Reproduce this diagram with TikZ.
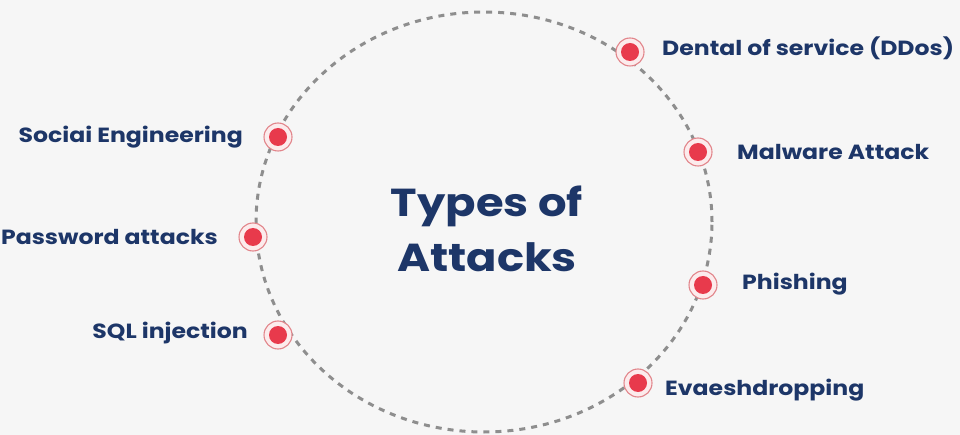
\documentclass[tikz,border=0pt]{standalone}
\usepackage{fontspec}
\setmainfont{Poppins}[FakeStretch=1.15]
\definecolor{bgcol}{HTML}{F6F6F6}
\definecolor{navy}{HTML}{1D3668}
\definecolor{dotred}{HTML}{E83A4C}
\definecolor{ringfill}{HTML}{FCEBEC}
\definecolor{ringline}{HTML}{E2858B}
\definecolor{dashcol}{HTML}{8E8E8E}
\begin{document}
\begin{tikzpicture}[x=1pt,y=-1pt,
  marker/.style={circle,draw=ringline,line width=1.1pt,fill=ringfill,minimum size=28pt,inner sep=0pt,
    path picture={\fill[dotred] (path picture bounding box.center) circle (9pt);}},
  lbl/.style={text=navy,font=\fontsize{20.5}{24}\selectfont\bfseries,inner sep=0pt},
  ring/.style={draw=dashcol,line width=3pt,dash pattern=on 6pt off 6pt}]
\fill[bgcol] (0,0) rectangle (960,435);
\useasboundingbox (0,0) rectangle (960,435);
\draw[ring] (484,222) ellipse [x radius=228pt, y radius=210pt];
\node[text=navy,font=\fontsize{39}{55}\selectfont\bfseries,align=center] (title) at (487,229) {Types of\\Attacks};
\node[marker] (m1) at (630,52) {};
\node[marker] (m2) at (698,152) {};
\node[marker] (m3) at (703,285) {};
\node[marker] (m4) at (638,383) {};
\node[marker] (m5) at (278,137) {};
\node[marker] (m6) at (253,237) {};
\node[marker] (m7) at (278,335) {};
\node[lbl,anchor=west] (l1) at (662,48) {Dental of service (DDos)};
\node[lbl,anchor=west] (l2) at (737,152) {Malware Attack};
\node[lbl,anchor=west] (l3) at (742,284) {Phishing};
\node[lbl,anchor=west] (l4) at (665,390) {Evaeshdropping};
\node[lbl,anchor=east] (l5) at (243,137) {Sociai Engineering};
\node[lbl,anchor=east] (l6) at (218,237) {Password attacks};
\node[lbl,anchor=east] (l7) at (248,333) {SQL injection};
\end{tikzpicture}
\end{document}
